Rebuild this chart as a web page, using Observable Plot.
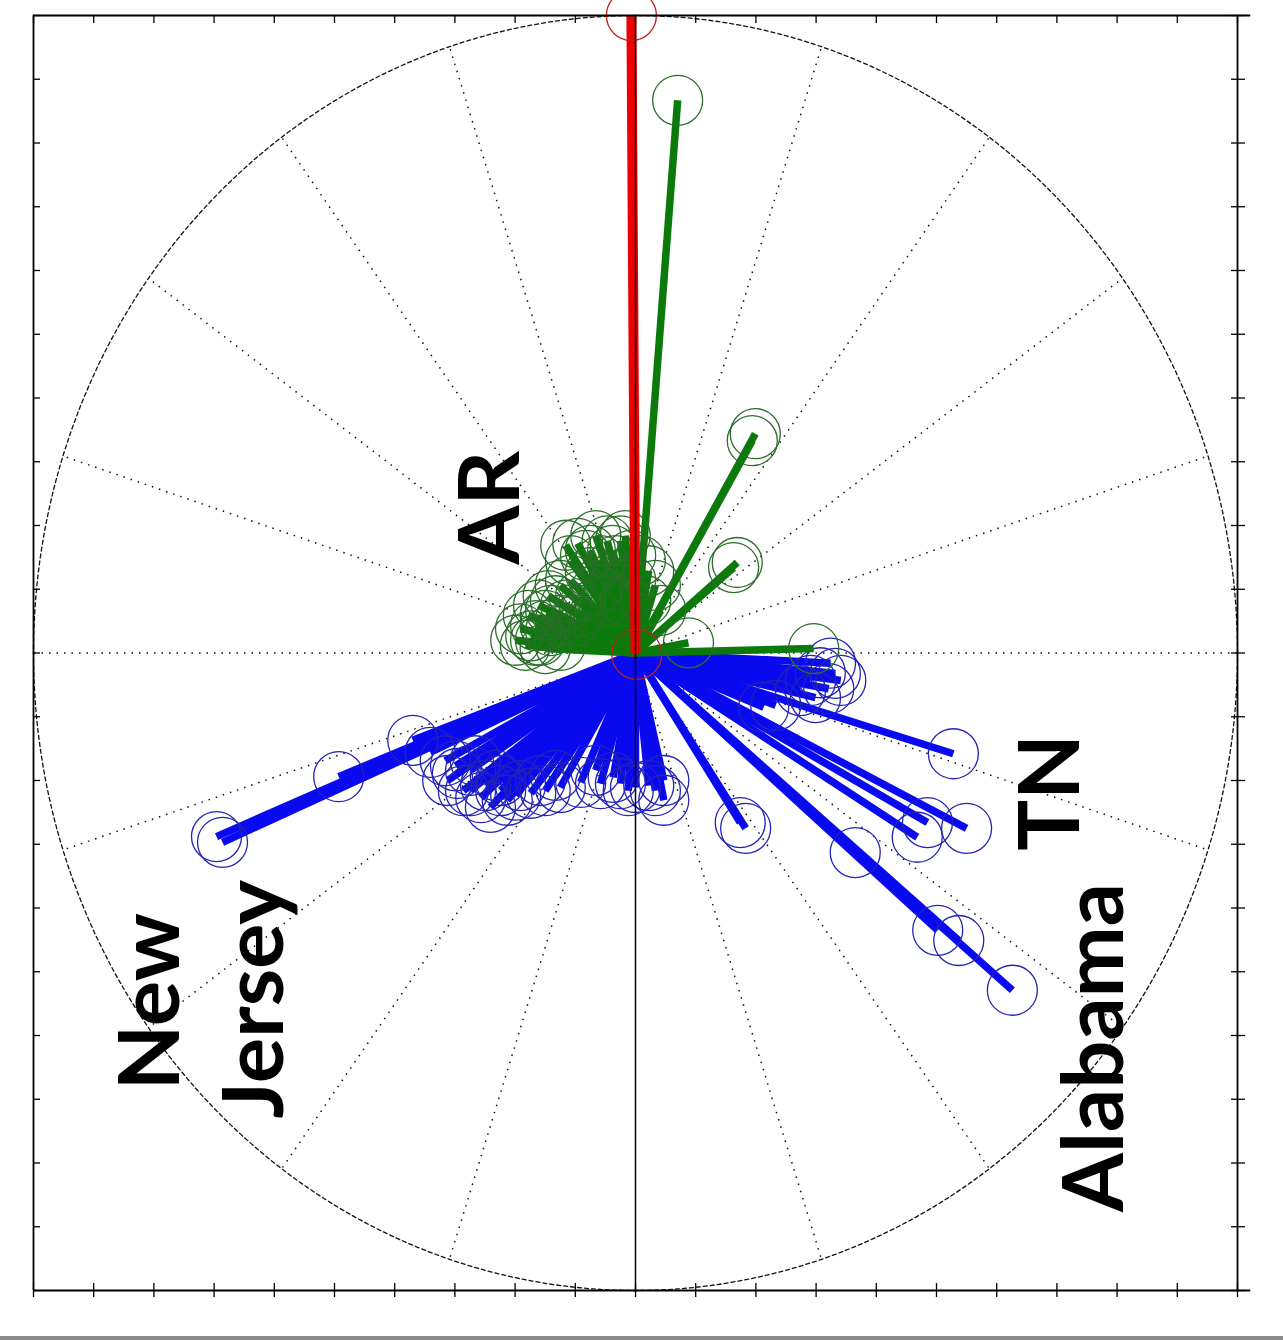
<!DOCTYPE html>
<html>
<head>
<meta charset="utf-8">
<script src="https://cdn.jsdelivr.net/npm/d3@7"></script>
<script src="https://cdn.jsdelivr.net/npm/@observablehq/plot@0.6"></script>
<style>
  body { margin: 0; background: #fff; }
  #chart svg { display: block; }
  .baseline-bar { width: 1283px; height: 4px; background: #8c8c8c; }
</style>
</head>
<body>
<div id="chart"></div>
<div class="baseline-bar"></div>
<script>
// Compass vectors (east, north components) per group
const redU = [-0.0068, 0.002];
const redV = [1.0, -0.002];

const greenU = [0.070, 0.199, 0.194, 0.169, 0.163, 0.296, 0.088, 0.033, 0.022,
  -0.096, -0.047, -0.075, -0.058, -0.108, -0.133, -0.150, -0.166, -0.174, -0.158,
  -0.141, -0.125, -0.116, -0.091, -0.066, -0.033, -0.025, -0.083, -0.183, -0.125,
  -0.100, -0.050, -0.017, -0.008, -0.150,
  -0.191, -0.178, -0.161, -0.145, -0.125, -0.166, -0.150, -0.199, -0.108, -0.116,
  -0.066, -0.075, -0.038, -0.017, -0.008, 0.008, 0.017, 0.042, -0.141, -0.091];
const greenV = [0.867, 0.344, 0.333, 0.142, 0.134, 0.007, 0.016, 0.106, 0.129,
  0.172, 0.176, 0.126, 0.145, 0.114, 0.082, 0.059, 0.043, 0.027, 0.020,
  0.035, 0.051, 0.075, 0.090, 0.098, 0.145, 0.176, 0.153, 0.012, 0.012,
  0.051, 0.082, 0.082, 0.114, 0.043,
  0.038, 0.059, 0.075, 0.090, 0.106, 0.020, 0.007, 0.020, 0.145, 0.169,
  0.184, 0.161, 0.161, 0.184, 0.153, 0.145, 0.082, 0.067, 0.067, 0.067];

const blueU = [-0.696, -0.686, -0.493, -0.370, -0.312, -0.296, -0.286, -0.257, -0.241,
  -0.213, -0.274, -0.249, -0.224, -0.174, -0.191, -0.150, -0.125, -0.091, -0.058,
  -0.037, -0.025, 0.000, 0.022, 0.047, 0.047, 0.174, 0.183, 0.365, 0.626, 0.502,
  0.537, 0.468, 0.485, 0.550, 0.528, 0.233, 0.213, 0.324, 0.332, 0.321, 0.299,
  0.341, -0.266, -0.233,
  -0.341, -0.316, -0.299, -0.224, -0.274, -0.199, -0.158, -0.133, -0.066, -0.012,
  0.033, 0.307, 0.291, 0.274];
const blueV = [-0.288, -0.297, -0.194, -0.137, -0.200, -0.189, -0.216, -0.227, -0.242,
  -0.231, -0.184, -0.208, -0.216, -0.220, -0.208, -0.216, -0.211, -0.203, -0.205,
  -0.195, -0.205, -0.211, -0.208, -0.231, -0.200, -0.266, -0.275, -0.313, -0.529, -0.435,
  -0.451, -0.289, -0.266, -0.275, -0.158, -0.082, -0.085, -0.016, -0.032, -0.056, -0.070,
  -0.043, -0.169, -0.192,
  -0.156, -0.169, -0.177, -0.200, -0.216, -0.223, -0.200, -0.192, -0.184, -0.216,
  -0.216, -0.031, -0.043, -0.059];

// Rotated annotations
const labelText = ["AR", "TN", "New", "Jersey", "Alabama"];
const labelX = [-0.194, 0.736, -0.759, -0.586, 0.809];
const labelY = [0.228, -0.219, -0.547, -0.543, -0.619];

// Axis tick positions
const ticks = d3.range(-10, 11).map(i => i / 10);

const toRows = (u, v) => u.map((d, i) => ({u: d, v: v[i]}));
const red = toRows(redU, redV);
const green = toRows(greenU, greenV);
const blue = toRows(blueU, blueV);
const labels = labelText.map((t, i) => ({t, x: labelX[i], y: labelY[i]}));

// Polar grid: unit circle and spokes every 18 degrees
const ring = d3.range(0, 361, 1).map(a => ({x: Math.cos(a * Math.PI / 180), y: Math.sin(a * Math.PI / 180)}));
const spokes = d3.range(0, 360, 18).filter(a => a !== 90 && a !== 270)
  .map(a => ({x: Math.cos(a * Math.PI / 180), y: Math.sin(a * Math.PI / 180)}));

const colors = {
  blue: "#0a0af0", blueRing: "#2323b8",
  green: "#0b7a0b", greenRing: "#2a6e2a",
  red: "#ee0000", redRing: "#c02020"
};

const vectorMarks = (rows, line, ring, width) => [
  Plot.link(rows, {x1: 0, y1: 0, x2: "u", y2: "v", stroke: line, strokeWidth: width, strokeLinecap: "butt"}),
  Plot.dot(rows, {x: "u", y: "v", r: 25, stroke: ring, strokeWidth: 1.3, fill: "none"})
];

const blank = () => "";

const chart = Plot.plot({
  width: 1283,
  height: 1336,
  marginLeft: 33,
  marginRight: 46,
  marginTop: 15,
  marginBottom: 46,
  x: {domain: [-1, 1], axis: null},
  y: {domain: [-1, 1], axis: null},
  style: {background: "#fff", overflow: "visible"},
  marks: [
    Plot.link(spokes, {x1: 0, y1: 0, x2: "x", y2: "y", stroke: "#111", strokeWidth: 1.5, strokeDasharray: "1.5,6"}),
    Plot.line(ring, {x: "x", y: "y", stroke: "#111", strokeWidth: 1.3, strokeDasharray: "4,3", curve: "linear"}),
    ...vectorMarks(blue, colors.blue, colors.blueRing, 7.5),
    ...vectorMarks(green, colors.green, colors.greenRing, 7.5),
    ...vectorMarks(red, colors.red, colors.redRing, 10),
    Plot.ruleX([0], {y1: -1, y2: 1, stroke: "#000", strokeWidth: 1.5}),
    Plot.ruleY([-1, 1], {x1: -1, x2: 1.022, stroke: "#000", strokeWidth: 1.8}),
    Plot.ruleX([-1, 1], {y1: -1, y2: 1, stroke: "#000", strokeWidth: 1.8}),
    Plot.axisX(ticks, {anchor: "bottom", tickSize: 14, dy: -7, tickFormat: blank, label: null, strokeWidth: 1.3}),
    Plot.axisX(ticks, {anchor: "top", tickSize: 7, dy: 7, tickFormat: blank, label: null, strokeWidth: 1.3}),
    Plot.axisY(ticks, {anchor: "left", tickSize: 7, dx: 7, tickFormat: blank, label: null, strokeWidth: 1.3}),
    Plot.axisY(ticks, {anchor: "right", tickSize: 14, dx: -7, tickFormat: blank, label: null, strokeWidth: 1.3}),
    Plot.text(labels, {
      x: "x", y: "y", text: "t", rotate: -90,
      textAnchor: "middle", lineAnchor: "bottom",
      fontSize: 85, fontWeight: 700, fontFamily: "Lato, Roboto, sans-serif",
      fill: "#000"
    })
  ]
});

document.getElementById("chart").appendChild(chart);
</script>
</body>
</html>
